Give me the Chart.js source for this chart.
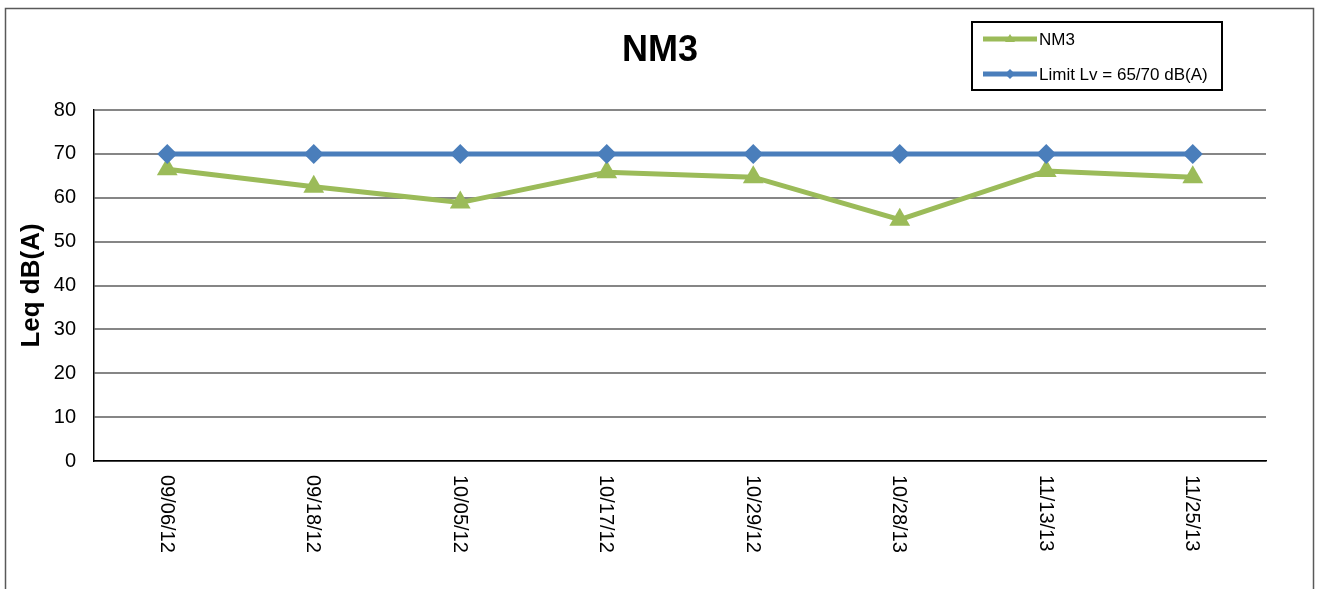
<!DOCTYPE html>
<html>
<head>
<meta charset="utf-8">
<title>NM3</title>
<script src="https://cdn.jsdelivr.net/npm/chart.js@4.4.1/dist/chart.umd.min.js"></script>
<style>
    html, body { margin: 0; padding: 0; background: #ffffff; }
    #wrap { width: 1319px; height: 589px; position: relative; }
</style>
</head>
<body>
<div id="wrap"><canvas id="nm3Chart" width="1319" height="589"></canvas></div>
<script>
// Chart data
const chartTitle = 'NM3';
const dateLabels = ['09/06/12', '09/18/12', '10/05/12', '10/17/12', '10/29/12', '10/28/13', '11/13/13', '11/25/13'];
const nm3Values = [66.5, 62.5, 58.9, 65.8, 64.7, 55.0, 66.1, 64.7];
const limitValues = [70, 70, 70, 70, 70, 70, 70, 70];
const yTicks = [0, 10, 20, 30, 40, 50, 60, 70, 80];

const FONT = 'Arial, "Liberation Sans", sans-serif';

// Outer frame + title + legend box + rotated date labels
const decorPlugin = {
    id: 'decor',
    beforeDraw(chart) {
        const ctx = chart.ctx;
        ctx.save();
        ctx.fillStyle = '#ffffff';
        ctx.fillRect(0, 0, chart.width, chart.height);
        ctx.strokeStyle = '#595959';
        ctx.lineWidth = 1.5;
        ctx.strokeRect(5.5, 8.5, 1308, 600);
        ctx.restore();
    },
    afterDraw(chart) {
        const ctx = chart.ctx;
        ctx.save();

        // title
        ctx.fillStyle = '#000000';
        ctx.font = 'bold 36px ' + FONT;
        ctx.textAlign = 'center';
        ctx.textBaseline = 'middle';
        ctx.fillText(chartTitle, 660, 51);

        // legend box
        ctx.strokeStyle = '#000000';
        ctx.lineWidth = 2;
        ctx.strokeRect(972, 22, 250, 68);
        const rows = [39, 74];
        chart.data.datasets.forEach((ds, i) => {
            const y = rows[i];
            ctx.strokeStyle = ds.borderColor;
            ctx.lineWidth = 5;
            ctx.beginPath();
            ctx.moveTo(983, y);
            ctx.lineTo(1037, y);
            ctx.stroke();
            ctx.fillStyle = ds.borderColor;
            ctx.beginPath();
            if (ds.pointStyle === 'triangle') {
                ctx.moveTo(1010, y - 5);
                ctx.lineTo(1015, y + 3);
                ctx.lineTo(1005, y + 3);
            } else {
                ctx.moveTo(1010, y - 5);
                ctx.lineTo(1015, y);
                ctx.lineTo(1010, y + 5);
                ctx.lineTo(1005, y);
            }
            ctx.closePath();
            ctx.fill();
            ctx.fillStyle = '#000000';
            ctx.font = '17px ' + FONT;
            ctx.textAlign = 'left';
            ctx.textBaseline = 'middle';
            ctx.fillText(ds.label, 1039, y + 1);
        });

        // x labels, rotated clockwise
        const xScale = chart.scales.x;
        ctx.font = '20px ' + FONT;
        ctx.fillStyle = '#000000';
        ctx.textAlign = 'left';
        ctx.textBaseline = 'middle';
        dateLabels.forEach((lbl, i) => {
            const x = xScale.getPixelForTick(i);
            ctx.save();
            ctx.translate(x - 1, chart.chartArea.bottom + 14);
            ctx.rotate(Math.PI / 2);
            ctx.fillText(lbl, 0, 0);
            ctx.restore();
        });

        ctx.restore();
    }
};

new Chart(document.getElementById('nm3Chart').getContext('2d'), {
    type: 'line',
    data: {
        labels: dateLabels,
        datasets: [
            {
                label: 'NM3',
                data: nm3Values,
                borderColor: '#9bbb59',
                backgroundColor: '#9bbb59',
                borderWidth: 5,
                pointStyle: 'triangle',
                pointRadius: 12,
                pointBorderWidth: 0,
                tension: 0,
                fill: false,
                order: 1
            },
            {
                label: 'Limit Lv = 65/70 dB(A)',
                data: limitValues,
                borderColor: '#4a7ebb',
                backgroundColor: '#4a7ebb',
                borderWidth: 5,
                pointStyle: 'rectRot',
                pointRadius: 10,
                pointBorderWidth: 0,
                tension: 0,
                fill: false,
                order: 0
            }
        ]
    },
    options: {
        responsive: false,
        animation: false,
        devicePixelRatio: 1,
        layout: {
            padding: { left: 14, top: 110, right: 53, bottom: 128 }
        },
        plugins: {
            legend: { display: false },
            title: { display: false },
            tooltip: { enabled: false }
        },
        scales: {
            x: {
                offset: true,
                grid: { display: false, drawTicks: false },
                border: { display: true, color: '#000000', width: 1.5 },
                ticks: { display: false }
            },
            y: {
                min: yTicks[0],
                max: yTicks[yTicks.length - 1],
                afterFit(scale) { scale.width = 94 - 14; },
                afterBuildTicks(scale) { scale.ticks = yTicks.map(v => ({ value: v })); },
                grid: { color: '#868686', lineWidth: 2, drawTicks: false },
                border: { display: true, color: '#000000', width: 1.5 },
                ticks: {
                    color: '#000000',
                    padding: 18,
                    font: { family: FONT, size: 20 }
                },
                title: {
                    display: true,
                    text: 'Leq dB(A)',
                    color: '#000000',
                    font: { family: FONT, size: 26, weight: 'bold' },
                    padding: { top: 2, bottom: 2 }
                }
            }
        }
    },
    plugins: [decorPlugin]
});
</script>
</body>
</html>
